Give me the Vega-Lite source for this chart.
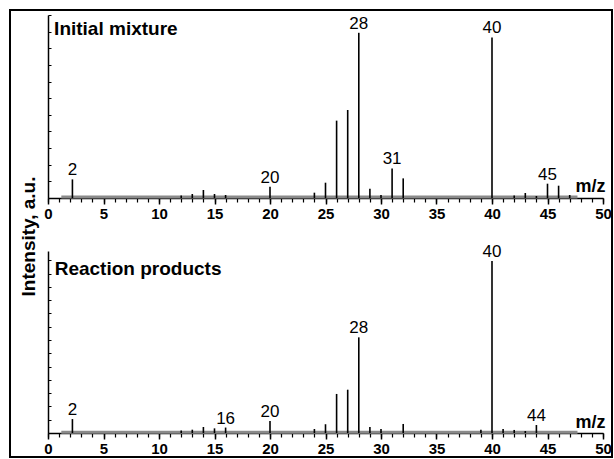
{
  "$schema": "https://vega.github.io/schema/vega-lite/v6.json",
  "width": 602,
  "height": 447,
  "autosize": {"type": "none"},
  "padding": {"left": 10, "top": 10, "right": 2, "bottom": 2},
  "background": "white",
  "config": {
    "view": {"stroke": "black", "strokeWidth": 2},
    "font": "Liberation Sans",
    "axis": {"grid": false, "domainColor": "black", "tickColor": "black", "labelColor": "black", "titleColor": "black"}
  },
  "datasets": {
    "top": [
      {"mz": 2.2, "intensity": 1.12, "label": "2"},
      {"mz": 12, "intensity": 0.15},
      {"mz": 13, "intensity": 0.24},
      {"mz": 14, "intensity": 0.48},
      {"mz": 15, "intensity": 0.24},
      {"mz": 16, "intensity": 0.18},
      {"mz": 20, "intensity": 0.68, "label": "20"},
      {"mz": 24, "intensity": 0.32},
      {"mz": 25, "intensity": 0.92},
      {"mz": 26, "intensity": 4.65},
      {"mz": 27, "intensity": 5.29},
      {"mz": 28, "intensity": 9.93, "label": "28"},
      {"mz": 29, "intensity": 0.56},
      {"mz": 30, "intensity": 0.18},
      {"mz": 31, "intensity": 1.78, "label": "31"},
      {"mz": 32, "intensity": 1.18},
      {"mz": 40, "intensity": 9.65, "label": "40"},
      {"mz": 42, "intensity": 0.15},
      {"mz": 43, "intensity": 0.3},
      {"mz": 44, "intensity": 0.12},
      {"mz": 45, "intensity": 0.86, "label": "45"},
      {"mz": 46, "intensity": 0.74},
      {"mz": 47, "intensity": 0.18}
    ],
    "bottom": [
      {"mz": 2.2, "intensity": 1.05, "label": "2"},
      {"mz": 12, "intensity": 0.19},
      {"mz": 13, "intensity": 0.25},
      {"mz": 14, "intensity": 0.45},
      {"mz": 15, "intensity": 0.35},
      {"mz": 16, "intensity": 0.41, "label": "16"},
      {"mz": 20, "intensity": 0.9, "label": "20"},
      {"mz": 24, "intensity": 0.3},
      {"mz": 25, "intensity": 0.66},
      {"mz": 26, "intensity": 2.94},
      {"mz": 27, "intensity": 3.26},
      {"mz": 28, "intensity": 7.2, "label": "28"},
      {"mz": 29, "intensity": 0.45},
      {"mz": 30, "intensity": 0.3},
      {"mz": 32, "intensity": 0.68},
      {"mz": 39, "intensity": 0.25},
      {"mz": 40, "intensity": 12.95, "label": "40"},
      {"mz": 41, "intensity": 0.3},
      {"mz": 42, "intensity": 0.23},
      {"mz": 43, "intensity": 0.15},
      {"mz": 44, "intensity": 0.6, "label": "44"}
    ],
    "noise": [{"start": 1.2, "end": 47.7, "level": 0.06}]
  },
  "layer": [
    {
      "data": {"name": "noise"},
      "mark": {"type": "rule", "color": "#8a8a8a", "strokeWidth": 3},
      "encoding": {
        "x": {"field": "start", "type": "quantitative", "scale": {"domain": [0, 50], "range": [38, 593], "nice": false, "zero": false},
          "axis": {"orient": "bottom", "offset": -259, "values": [0,1,2,3,4,5,6,7,8,9,10,11,12,13,14,15,16,17,18,19,20,21,22,23,24,25,26,27,28,29,30,31,32,33,34,35,36,37,38,39,40,41,42,43,44,45,46,47,48,49,50], "labels": false, "domain": false, "tickSize": 4, "tickWidth": 1.2, "title": null}},
        "x2": {"field": "end"},
        "y": {"field": "level", "type": "quantitative", "scale": {"domain": [0, 11], "range": [188, 5], "nice": false}, "axis": null}
      }
    },
    {
      "data": {"name": "top"},
      "mark": {"type": "rule", "color": "black", "strokeWidth": 1.6},
      "encoding": {
        "x": {"field": "mz", "type": "quantitative", "scale": {"domain": [0, 50], "range": [38, 593], "nice": false, "zero": false},
          "axis": {"orient": "bottom", "offset": -259, "values": [0, 5, 10, 15, 20, 25, 30, 35, 40, 45, 50], "tickSize": 6, "tickWidth": 1.5, "domainWidth": 1.5,
            "labelFont": "Liberation Sans", "labelFontSize": 15, "labelFontWeight": "bold", "labelPadding": 2, "labelFlush": false, "labelOverlap": false,
            "title": "m/z", "titleX": 580, "titleY": -12, "titleAlign": "center", "titleBaseline": "middle", "titleFontSize": 18, "titleFontWeight": "bold"}},
        "y": {"field": "intensity", "type": "quantitative", "scale": {"domain": [0, 11], "range": [188, 5], "nice": false},
          "axis": {"orient": "left", "offset": -38, "values": [0,1,2,3,4,5,6,7,8,9,10,11], "labels": false, "tickSize": -3, "tickWidth": 1, "domainWidth": 1.5,
            "title": "Intensity, a.u.", "titleX": -20, "titleY": 226, "titleAngle": -90, "titleAlign": "center", "titleBaseline": "middle", "titleFontSize": 19, "titleFontWeight": "bold"}},
        "y2": {"datum": 0}
      }
    },
    {
      "data": {"name": "top"},
      "transform": [{"filter": "datum.label != null"}],
      "mark": {"type": "text", "color": "black", "fontSize": 17, "dy": -4, "baseline": "alphabetic", "align": "center"},
      "encoding": {
        "x": {"field": "mz", "type": "quantitative", "axis": null},
        "y": {"field": "intensity", "type": "quantitative", "scale": {"domain": [0, 11], "range": [188, 5], "nice": false}, "axis": null},
        "text": {"field": "label"}
      }
    },
    {
      "data": {"values": [{"name": "Initial mixture"}]},
      "mark": {"type": "text", "color": "black", "fontSize": 19, "fontWeight": "bold", "baseline": "alphabetic", "align": "left"},
      "encoding": {
        "x": {"datum": 0.55, "type": "quantitative", "axis": null},
        "y": {"datum": 9.8, "type": "quantitative", "scale": {"domain": [0, 11], "range": [188, 5], "nice": false}, "axis": null},
        "text": {"field": "name"}
      }
    },
    {
      "data": {"name": "noise"},
      "mark": {"type": "rule", "color": "#8a8a8a", "strokeWidth": 3},
      "encoding": {
        "x": {"field": "start", "type": "quantitative",
          "axis": {"orient": "bottom", "offset": -24, "values": [0,1,2,3,4,5,6,7,8,9,10,11,12,13,14,15,16,17,18,19,20,21,22,23,24,25,26,27,28,29,30,31,32,33,34,35,36,37,38,39,40,41,42,43,44,45,46,47,48,49,50], "labels": false, "domain": false, "tickSize": 4, "tickWidth": 1.2, "title": null}},
        "x2": {"field": "end"},
        "y": {"field": "level", "type": "quantitative", "scale": {"domain": [0, 13.7], "range": [423, 241], "nice": false}, "axis": null}
      }
    },
    {
      "data": {"name": "bottom"},
      "mark": {"type": "rule", "color": "black", "strokeWidth": 1.6},
      "encoding": {
        "x": {"field": "mz", "type": "quantitative",
          "axis": {"orient": "bottom", "offset": -24, "values": [0, 5, 10, 15, 20, 25, 30, 35, 40, 45, 50], "tickSize": 6, "tickWidth": 1.5, "domainWidth": 1.5,
            "labelFont": "Liberation Sans", "labelFontSize": 15, "labelFontWeight": "bold", "labelPadding": 2, "labelFlush": false, "labelOverlap": false,
            "title": "m/z", "titleX": 580, "titleY": -11, "titleAlign": "center", "titleBaseline": "middle", "titleFontSize": 18, "titleFontWeight": "bold"}},
        "y": {"field": "intensity", "type": "quantitative", "scale": {"domain": [0, 13.7], "range": [423, 241], "nice": false},
          "axis": {"orient": "left", "offset": -38, "values": [0,1,2,3,4,5,6,7,8,9,10,11,12,13], "labels": false, "tickSize": -3, "tickWidth": 1, "domainWidth": 1.5, "title": null}},
        "y2": {"datum": 0}
      }
    },
    {
      "data": {"name": "bottom"},
      "transform": [{"filter": "datum.label != null"}],
      "mark": {"type": "text", "color": "black", "fontSize": 17, "dy": -4, "baseline": "alphabetic", "align": "center"},
      "encoding": {
        "x": {"field": "mz", "type": "quantitative", "axis": null},
        "y": {"field": "intensity", "type": "quantitative", "scale": {"domain": [0, 13.7], "range": [423, 241], "nice": false}, "axis": null},
        "text": {"field": "label"}
      }
    },
    {
      "data": {"values": [{"name": "Reaction products"}]},
      "mark": {"type": "text", "color": "black", "fontSize": 19, "fontWeight": "bold", "baseline": "alphabetic", "align": "left"},
      "encoding": {
        "x": {"datum": 0.6, "type": "quantitative", "axis": null},
        "y": {"datum": 11.9, "type": "quantitative", "scale": {"domain": [0, 13.7], "range": [423, 241], "nice": false}, "axis": null},
        "text": {"field": "name"}
      }
    }
  ],
  "resolve": {"scale": {"y": "independent"}, "axis": {"x": "independent", "y": "independent"}}
}
